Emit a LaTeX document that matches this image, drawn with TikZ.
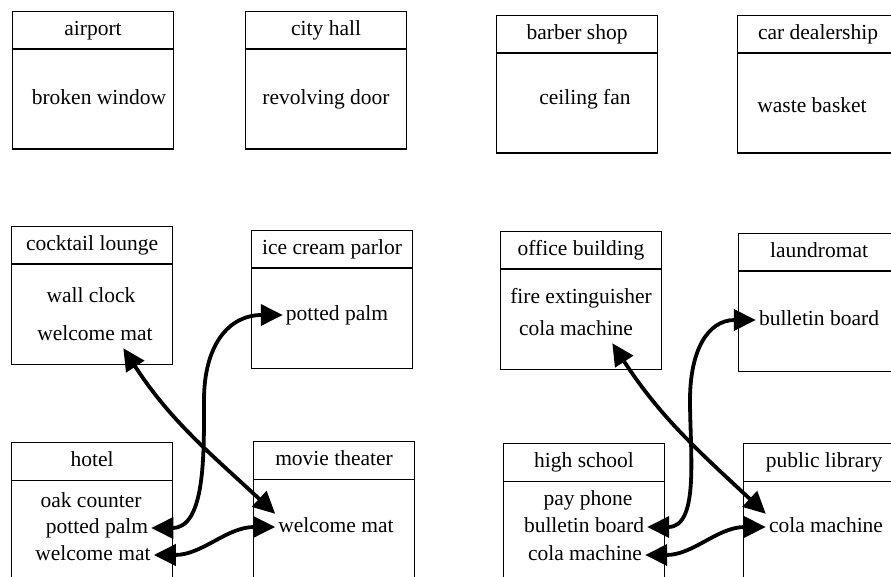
\documentclass[tikz,border=0pt]{standalone}
\usepackage{fontspec}
\setmainfont{Liberation Serif}
\usetikzlibrary{arrows.meta}
\tikzset{>={Triangle[length=22pt,width=21pt]},
  building/.style={draw,line width=1.1pt,anchor=north west,minimum width=161pt,minimum height=137.5pt,inner sep=0pt},
  title/.style={draw,line width=1.1pt,anchor=north,minimum width=161pt,minimum height=37.5pt,inner sep=0pt,
    font=\fontsize{21.5}{26}\selectfont,text height=15pt,text depth=5pt},
  item/.style={inner sep=3pt,font=\fontsize{21.5}{26}\selectfont,text height=15pt,text depth=5pt},
  link/.style={<->,line width=3.8pt}}

\begin{document}
\begin{tikzpicture}[x=1pt,y=1pt]
              \useasboundingbox (0,0) rectangle (891,-577);

              \node[building] (airport) at (12,-11) {};
              \node[title] (airport-name) at (airport.north) {airport};
              \node[item] (airport-window) at (99,-100) {broken window};

              \node[building] (cityhall) at (245,-11) {};
              \node[title] (cityhall-name) at (cityhall.north) {city hall};
              \node[item] (cityhall-door) at (326,-100) {revolving door};

              \node[building] (barber) at (496,-15) {};
              \node[title] (barber-name) at (barber.north) {barber shop};
              \node[item] (barber-fan) at (585,-100) {ceiling fan};

              \node[building] (dealer) at (737,-15) {};
              \node[title] (dealer-name) at (dealer.north) {car dealership};
              \node[item] (dealer-basket) at (812,-108) {waste basket};

              \node[building] (lounge) at (11,-226) {};
              \node[title] (lounge-name) at (lounge.north) {cocktail lounge};
              \node[item] (lounge-clock) at (91,-297) {wall clock};
              \node[item] (lounge-mat) at (95,-335) {welcome mat};

              \node[building] (parlor) at (251,-230) {};
              \node[title] (parlor-name) at (parlor.north) {ice cream parlor};
              \node[item] (parlor-palm) at (337,-315) {potted palm};

              \node[building] (office) at (500,-231) {};
              \node[title] (office-name) at (office.north) {office building};
              \node[item] (office-fire) at (581,-298) {fire extinguisher};
              \node[item] (office-cola) at (576,-330) {cola machine};

              \node[building] (laundromat) at (738,-233) {};
              \node[title] (laundromat-name) at (laundromat.north) {laundromat};
              \node[item] (laundromat-board) at (819,-320) {bulletin board};

              \node[building] (hotel) at (11,-442) {};
              \node[title] (hotel-name) at (hotel.north) {hotel};
              \node[item] (hotel-oak) at (91,-502) {oak counter};
              \node[item] (hotel-palm) at (97,-528) {potted palm};
              \node[item] (hotel-mat) at (93,-555) {welcome mat};

              \node[building] (theater) at (253,-441) {};
              \node[title] (theater-name) at (theater.north) {movie theater};
              \node[item] (theater-mat) at (336,-527) {welcome mat};

              \node[building] (school) at (503,-443) {};
              \node[title] (school-name) at (school.north) {high school};
              \node[item] (school-phone) at (588,-500) {pay phone};
              \node[item] (school-board) at (584,-527) {bulletin board};
              \node[item] (school-cola) at (585,-555) {cola machine};

              \node[building] (library) at (743,-443) {};
              \node[title] (library-name) at (library.north) {public library};
              \node[item] (library-cola) at (826,-527) {cola machine};

              \coordinate (palm-bend) at (204,-400);
              \coordinate (board-bend) at (690,-400);

              \draw[link] (lounge-mat.-25) to[out=-57,in=137] (theater-mat.north west);
              \draw[link] (hotel-palm.east) to[out=0,in=-90] (palm-bend) to[out=90,in=180,looseness=1.2] (parlor-palm.west);
              \draw[link] (hotel-mat.east) to[out=0,in=180] (theater-mat.west);

              \draw[link] (office-cola.-20) to[out=-57,in=137] (library-cola.north west);
              \draw[link] (school-board.east) to[out=0,in=-90] (board-bend) to[out=90,in=180,looseness=1.2] (laundromat-board.west);
              \draw[link] (school-cola.east) to[out=0,in=180] (library-cola.west);
            \end{tikzpicture}
\end{document}
